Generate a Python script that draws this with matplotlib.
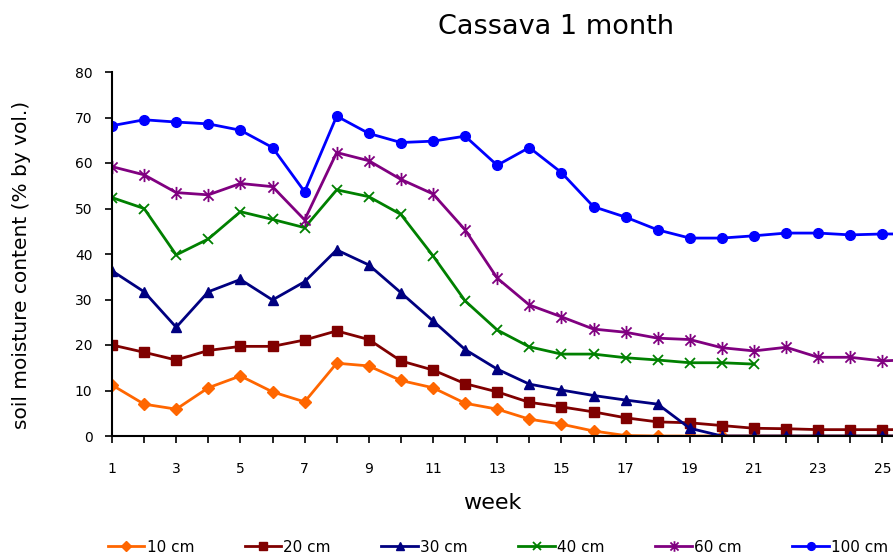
import matplotlib
matplotlib.use("Agg")
import matplotlib.pyplot as plt
from matplotlib.path import Path

weeks = list(range(1, 27))
d10 = [11.2, 7.0, 5.9, 10.6, 13.2, 9.7, 7.5, 16.0, 15.4, 12.2, 10.6, 7.2, 5.9,
       3.7, 2.6, 1.1, 0.1, 0.0, 0.0, 0.0, 0.0, 0.0, 0.0, 0.0, 0.0, 0.0]
d20 = [20.0, 18.4, 16.7, 18.8, 19.7, 19.7, 21.1, 23.1, 21.2, 16.5, 14.5, 11.5, 9.7,
       7.4, 6.4, 5.3, 4.0, 3.1, 2.9, 2.3, 1.7, 1.6, 1.4, 1.4, 1.4, 1.4]
d30 = [36.3, 31.7, 23.9, 31.7, 34.4, 29.9, 33.9, 40.9, 37.6, 31.5, 25.3, 19.0, 14.7,
       11.4, 10.1, 8.9, 7.9, 7.0, 1.7, 0.0, 0.0, 0.0, 0.0, 0.0, 0.0, 0.0]
d40 = [52.4, 50.0, 39.8, 43.3, 49.3, 47.6, 45.8, 54.1, 52.6, 48.7, 39.6, 29.7, 23.3,
       19.6, 18.0, 18.0, 17.2, 16.7, 16.1, 16.1, 15.8]
d60 = [59.2, 57.4, 53.5, 53.0, 55.5, 54.8, 47.5, 62.3, 60.5, 56.4, 53.2, 45.3, 34.7,
       28.8, 26.2, 23.5, 22.8, 21.5, 21.2, 19.4, 18.7, 19.5, 17.3, 17.3, 16.5, 16.8]
d100 = [68.2, 69.5, 69.0, 68.6, 67.2, 63.4, 53.7, 70.3, 66.5, 64.5, 64.8, 65.9, 59.5,
        63.4, 57.9, 50.4, 48.1, 45.3, 43.5, 43.5, 44.0, 44.6, 44.6, 44.2, 44.4, 44.4]

labels = ["10 cm", "20 cm", "30 cm", "40 cm", "60 cm", "100 cm"]
series = [d10, d20, d30, d40, d60, d100]
colors = ["#FF6600", "#800000", "#000080", "#008000", "#800080", "#0000FF"]

star = Path([(-1, -1), (1, 1), (-1, 1), (1, -1), (0, -1.3), (0, 1.3)],
            [Path.MOVETO, Path.LINETO, Path.MOVETO, Path.LINETO, Path.MOVETO, Path.LINETO])
markers = ["D", "s", "^", "x", star, "o"]
msizes = [6, 6.5, 7, 7.5, 9.5, 7]

plt.rcParams['font.family'] = ['DejaVu Sans']

fig = plt.figure(figsize=(8.93, 5.56), dpi=100)
ax = fig.add_axes([112/893, 1-436/556, 1-112/893, (436-72)/556])

for y, lab, c, m, ms in zip(series, labels, colors, markers, msizes):
    ax.plot(weeks[:len(y)], y, color=c, marker=m, markersize=ms, linewidth=2,
            markeredgewidth=1.3 if (m == "x" or m is star) else 1, label=lab)

ax.set_xlim(1, 25.33)
ax.set_ylim(0, 80)
ax.set_yticks(range(0, 81, 10))
ax.set_xticks(range(1, 26))
ax.set_xticklabels([str(w) if w % 2 == 1 else "" for w in range(1, 26)])
for s in ("top", "right"):
    ax.spines[s].set_visible(False)
for s in ("left", "bottom"):
    ax.spines[s].set_linewidth(1.5)
ax.tick_params(axis="y", direction="out", length=5, width=1.2, pad=9, labelsize=10)
ax.tick_params(axis="x", direction="out", length=5, width=1.2, pad=14, labelsize=10)

fig.text(556/893, 1-27/556, "Cassava 1 month", ha="center", va="center", fontsize=19.5)
fig.text(492/893, 1-503/556, "week", ha="center", va="center", fontsize=16)
fig.text(22/893, 1-265/556, "soil moisture content (% by vol.)", ha="center", va="center",
         rotation=90, fontsize=14.5)

fig.legend(loc="center", bbox_to_anchor=(498/893, 1-547/556), ncol=6, frameon=False,
           fontsize=11, handlelength=2.4, columnspacing=3.3, handletextpad=0.15,
           markerscale=0.8)

fig.savefig("out.png", dpi=100)
